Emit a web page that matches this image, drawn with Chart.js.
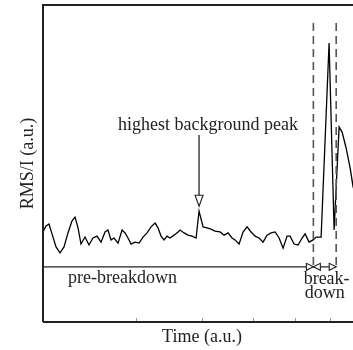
<!DOCTYPE html>
<html><head><meta charset="utf-8">
<script src="https://cdn.jsdelivr.net/npm/chart.js@4/dist/chart.umd.min.js"></script>
<style>html,body{margin:0;padding:0;background:#fff;overflow:hidden;width:353px;height:350px}
#wrap{position:absolute;left:0;top:0;width:370px;height:350px}</style>
</head><body><div id="wrap"><canvas id="c" width="370" height="350"></canvas></div>
<script>
// Time (a.u., log axis) and RMS/I (a.u.)
const times = [2.000,2.026,2.053,2.080,2.117,2.154,2.192,2.230,2.270,2.300,2.330,2.360,2.402,2.444,2.487,2.531,2.576,2.621,2.655,2.690,2.726,2.774,2.823,2.860,2.897,2.936,2.987,3.040,3.093,3.148,3.203,3.260,3.302,3.346,3.390,3.435,3.480,3.541,3.603,3.635,3.699,3.764,3.830,3.898,3.949,4.019,4.089,4.161,4.234,4.328,4.404,4.481,4.560,4.620,4.702,4.784,4.869,4.954,5.042,5.130,5.220,5.312,5.406,5.501,5.598,5.696,5.796,5.873,5.976,6.081,6.188,6.270,6.380,6.492,6.578,6.723,6.961,7.115,7.272,7.368,7.497,7.629,7.730,7.900];
const rms = [28.4,30.3,30.9,27.8,23.7,21.8,23.7,28.1,31.9,33.1,29.7,24.6,26.8,24.3,26.5,27.1,25.2,28.4,29.0,25.9,26.5,24.9,29.0,28.1,26.5,24.6,25.2,24.9,26.8,28.1,30.0,31.2,29.7,27.1,25.9,27.1,26.5,27.4,28.4,29.0,28.1,27.4,27.1,26.5,35.0,30.0,29.7,29.3,28.7,28.4,27.4,28.1,26.5,25.9,24.6,28.4,30.0,28.4,27.1,26.5,25.2,27.4,28.1,28.4,26.5,23.3,27.1,27.1,24.6,24.3,26.5,27.8,25.2,25.9,26.8,26.8,88.0,29.0,61.5,59.9,54.9,48.6,42.6,38.5];
const xTickValues = [3,4,5,6,7];
const phaseBounds = [6.5, 7.18];           // breakdown window (dashed lines)
const peakTime = 3.949;                    // highest background peak
const peakLabel = 'highest background peak';
const preLabel = 'pre-breakdown';
const breakLabel = ['break-','down'];
const axisMin = 2, axisMax = 8, yMin = 0, yMax = 100;

const FONT = "'Liberation Serif', 'Times New Roman', serif";
const INK = '#222';

function openTri(ctx, tipX, tipY, dir, len, half){
  ctx.beginPath();
  if (dir==='right'){ctx.moveTo(tipX,tipY);ctx.lineTo(tipX-len,tipY-half);ctx.lineTo(tipX-len,tipY+half);}
  else if (dir==='left'){ctx.moveTo(tipX,tipY);ctx.lineTo(tipX+len,tipY-half);ctx.lineTo(tipX+len,tipY+half);}
  else {ctx.moveTo(tipX,tipY);ctx.lineTo(tipX-half,tipY-len);ctx.lineTo(tipX+half,tipY-len);}
  ctx.closePath(); ctx.fillStyle='#fff'; ctx.fill(); ctx.stroke();
}

const annot = {
  id:'annot',
  afterDatasetsDraw(chart){
    const {ctx, chartArea:a, scales:{x,y}} = chart;
    ctx.save();
    // frame
    ctx.strokeStyle = INK; ctx.lineWidth = 2;
    ctx.beginPath();
    ctx.moveTo(a.left, a.bottom); ctx.lineTo(a.left, a.top);
    ctx.lineTo(a.right, a.top); ctx.lineTo(a.right, a.bottom); ctx.lineTo(a.left, a.bottom);
    ctx.stroke();
    // inner ticks on bottom axis
    ctx.strokeStyle = '#999'; ctx.lineWidth = 1;
    xTickValues.forEach(v=>{const px=Math.round(x.getPixelForValue(v))+0.5;ctx.beginPath();ctx.moveTo(px,a.bottom-1);ctx.lineTo(px,a.bottom-4);ctx.stroke();});
    // dashed breakdown bounds
    const lineY = y.getPixelForValue(17.4);
    const dashTop = y.getPixelForValue(94.3);
    ctx.strokeStyle = '#555'; ctx.lineWidth = 1.6; ctx.setLineDash([8,5]);
    phaseBounds.forEach(t=>{const px=x.getPixelForValue(t);ctx.beginPath();ctx.moveTo(px,dashTop);ctx.lineTo(px,lineY);ctx.stroke();});
    ctx.setLineDash([]);
    // horizontal phase arrows
    const b0 = x.getPixelForValue(phaseBounds[0]), b1 = x.getPixelForValue(phaseBounds[1]);
    ctx.strokeStyle = INK; ctx.lineWidth = 1.1;
    ctx.beginPath(); ctx.moveTo(a.left, lineY); ctx.lineTo(b1, lineY); ctx.stroke();
    openTri(ctx, b0, lineY, 'right', 7, 3.5);
    openTri(ctx, b0, lineY, 'left', 7, 3.5);
    openTri(ctx, b1, lineY, 'right', 7, 3.5);
    // peak arrow
    const px = x.getPixelForValue(peakTime);
    const top = y.getPixelForValue(59), tip = y.getPixelForValue(36.5);
    ctx.lineWidth = 1.3;
    ctx.beginPath(); ctx.moveTo(px, top); ctx.lineTo(px, tip-10); ctx.stroke();
    ctx.lineWidth = 1.1;
    openTri(ctx, px, tip, 'down', 11, 4);
    // texts
    ctx.fillStyle = INK; ctx.font = '18px ' + FONT; ctx.textBaseline = 'middle';
    ctx.textAlign = 'center';
    ctx.fillText(peakLabel, x.getPixelForValue(4.107), y.getPixelForValue(62.1));
    ctx.textAlign = 'left';
    ctx.fillText(preLabel, x.getPixelForValue(2.231), y.getPixelForValue(13.9));
    ctx.fillText(breakLabel[0], x.getPixelForValue(6.23), y.getPixelForValue(13.6));
    ctx.fillText(breakLabel[1], x.getPixelForValue(6.26), y.getPixelForValue(9.1));
    ctx.restore();
  }
};

new Chart(document.getElementById('c'), {
  type:'line',
  data:{ labels: times, datasets:[{ data: times.map((t,i)=>({x:t,y:rms[i]})), borderColor:'#000', borderWidth:1.3, pointRadius:0, tension:0, fill:false }]},
  options:{
    responsive:false, animation:false, devicePixelRatio:1,
    layout:{padding:{top:5,right:9,left:0,bottom:0}},
    plugins:{legend:{display:false}, tooltip:{enabled:false}},
    scales:{
      x:{type:'logarithmic', min:axisMin, max:axisMax,
         ticks:{display:false}, grid:{display:false}, border:{display:false},
         title:{display:true, text:'Time (a.u.)', color:INK, font:{family:FONT, size:18}, padding:{top:0,bottom:2}},
         afterFit(s){s.height=28;}},
      y:{min:yMin, max:yMax, ticks:{display:false}, grid:{display:false}, border:{display:false},
         title:{display:true, text:'RMS/I (a.u.)', color:INK, font:{family:FONT, size:18}, padding:{top:17,bottom:0}},
         afterFit(s){s.width=43;}}
    }
  },
  plugins:[annot]
});
</script></body></html>
